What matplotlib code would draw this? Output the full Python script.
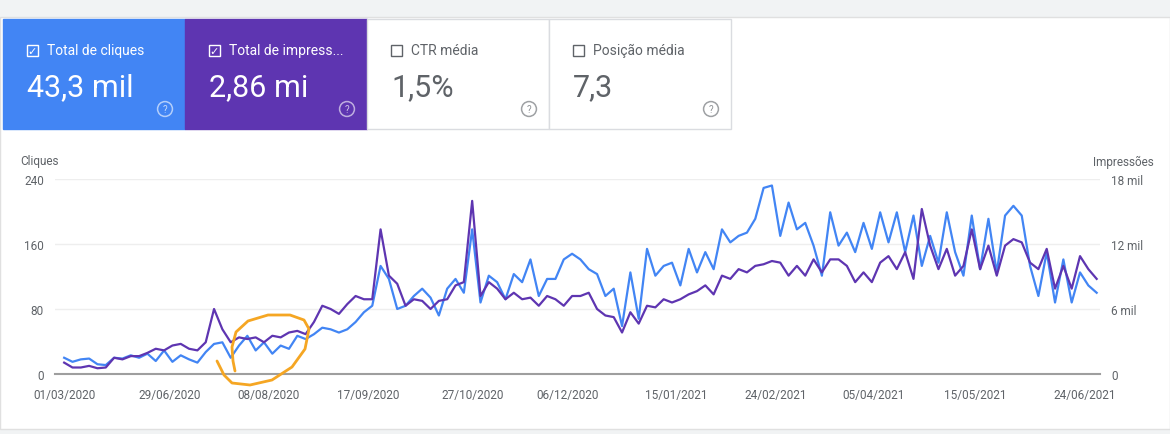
import matplotlib.pyplot as plt
from matplotlib.patches import Rectangle
import numpy as np

W, H = 1170, 435

# samples (every ~4 days, 01/03/2020 -> end of 06/2021)
CLIQUES = [
    20, 15, 18, 19, 12, 11, 20, 19, 23, 20, 25, 16, 29, 15, 23, 18, 14, 27, 37, 39, 20, 35, 47, 29, 39, 25, 35, 31, 47, 43, 49,
    57, 55, 51, 55, 64, 76, 84, 133, 117, 80, 84, 96, 105, 94, 72, 105, 117, 100, 178, 88, 121, 113, 92, 123, 113, 141, 96, 117, 117, 141, 148,
    141, 129, 123, 96, 105, 59, 125, 68, 154, 121, 133, 137, 109, 154, 125, 150, 129, 178, 162, 170, 174, 191, 229, 232, 170, 211, 178, 186, 158, 121, 199,
    158, 174, 150, 186, 154, 199, 162, 199, 150, 195, 133, 170, 137, 199, 150, 121, 195, 129, 191, 125, 195, 207, 195, 133, 96, 150, 88, 141, 88, 125, 109, 100,
]
IMPRESSOES_MIL = [
    1.05, 0.6, 0.6, 0.75, 0.53, 0.6, 1.5, 1.35, 1.65, 1.65, 1.95, 2.33, 2.18, 2.63, 2.78, 2.33, 2.18, 2.93, 6.0, 4.13, 2.93, 3.38, 3.23, 3.38, 2.93, 3.53, 3.38, 3.83, 3.98, 3.68, 4.8,
    6.3, 6.0, 5.55, 6.45, 7.2, 6.9, 6.9, 13.35, 9.08, 8.33, 6.3, 6.9, 6.75, 6.0, 6.75, 6.9, 8.18, 8.48, 15.98, 7.2, 8.48, 7.88, 6.9, 7.5, 6.9, 7.05, 6.3, 7.2, 6.9, 6.3, 7.2,
    7.2, 7.5, 6.0, 5.4, 5.25, 3.83, 5.7, 4.65, 6.3, 6.15, 6.9, 6.6, 6.9, 7.35, 7.65, 8.18, 7.35, 9.08, 8.78, 9.68, 9.38, 9.98, 10.13, 10.43, 10.28, 9.08, 9.98, 9.08, 10.58, 9.38, 10.58,
    10.58, 9.98, 8.48, 9.38, 8.48, 10.28, 10.88, 9.68, 11.25, 8.78, 15.23, 11.85, 9.68, 11.55, 9.08, 9.98, 13.35, 9.68, 11.85, 9.08, 11.85, 12.45, 12.15, 10.28, 9.68, 11.55, 7.88, 9.98, 7.88, 10.88, 9.68, 8.78,
]
n = min(len(CLIQUES), len(IMPRESSOES_MIL))
CLIQUES = CLIQUES[:n]
IMPRESSOES_MIL = IMPRESSOES_MIL[:n]

DATE_LABELS = ["01/03/2020", "29/06/2020", "08/08/2020", "17/09/2020", "27/10/2020", "06/12/2020",
               "15/01/2021", "24/02/2021", "05/04/2021", "15/05/2021", "24/06/2021"]
DATE_POS = [0, 12.7, 24.5, 36.5, 49, 60.5, 73.5, 85.5, 97.2, 109.4, 122.6]

CARDS = [
    ("Total de cliques", "43,3 mil", "#4285f4", True),
    ("Total de impress...", "2,86 mi", "#5e35b1", True),
    ("CTR média", "1,5%", "white", False),
    ("Posição média", "7,3", "white", False),
]

BLUE = "#4285f4"
PURPLE = "#5e35b1"
GREY = "#5f6368"

plt.rcParams["font.family"] = "Roboto"

fig = plt.figure(figsize=(W / 100, H / 100), dpi=100)
fig.patch.set_facecolor("#f1f3f4")


def fx(px):
    return px / W


def fy(py):
    return 1 - py / H


fig.add_artist(Rectangle((fx(0), fy(430)), 1, fy(18) - fy(430), transform=fig.transFigure,
                         facecolor="white", edgecolor="#e0e0e0", zorder=-10))

for i, (label, value, color, active) in enumerate(CARDS):
    x0 = 3 + i * 182
    fig.add_artist(Rectangle((fx(x0), fy(130)), fx(182), fy(20) - fy(130), transform=fig.transFigure,
                             facecolor=color, edgecolor="#dadce0" if not active else color, lw=1, zorder=-5))
    tc = "white" if active else "#5f6368"
    fig.add_artist(Rectangle((fx(x0 + 24), fy(57)), fx(11), fy(46) - fy(57), transform=fig.transFigure,
                             facecolor="none", edgecolor=tc, lw=1, zorder=3))
    if active:
        fig.text(fx(x0 + 29.5), fy(51.5), "✓", color="white", fontsize=8, ha="center", va="center",
                 fontfamily="DejaVu Sans", zorder=3)
    fig.text(fx(x0 + 44), fy(51), label, color=tc, fontsize=10, va="center", zorder=3)
    fig.text(fx(x0 + 24), fy(88), value, color=tc, fontsize=22, va="center", zorder=3)
    fig.text(fx(x0 + 162), fy(110), "?", color=tc, fontsize=7, ha="center", va="center", alpha=0.7, zorder=3,
             bbox=dict(boxstyle="circle,pad=0.25", facecolor="none", edgecolor=tc, lw=1.1, alpha=0.6))

ax = fig.add_axes([fx(55), fy(375), fx(1100) - fx(55), fy(180) - fy(375)])
ax2 = ax.twinx()
x = np.arange(n)

ax.plot(x, CLIQUES, color=BLUE, lw=1.6)
ax2.plot(x, IMPRESSOES_MIL, color=PURPLE, lw=1.6)

ax.set_xlim(-1.1, 124.4)
ax.set_ylim(0, 240)
ax2.set_ylim(0, 18)
ax.set_yticks([0, 80, 160, 240])
ax2.set_yticks([0, 6, 12, 18])
ax2.set_yticklabels(["0", "6 mil", "12 mil", "18 mil"])
ax.set_xticks(DATE_POS)
ax.set_xticklabels(DATE_LABELS)
ax.grid(axis="y", color="#eeeeee", lw=1)
ax.set_axisbelow(True)

for a in (ax, ax2):
    for s in ("top", "left", "right", "bottom"):
        a.spines[s].set_visible(False)
    a.tick_params(length=0, colors=GREY, labelsize=8.5)
ax.spines["bottom"].set_visible(True)
ax.spines["bottom"].set_color("#9e9e9e")
ax.spines["bottom"].set_linewidth(1.5)
ax.tick_params(axis="x", pad=10)
ax.tick_params(axis="y", pad=8)
ax2.tick_params(axis="y", pad=8)
ax.set_zorder(1)
ax2.set_zorder(2)
ax2.patch.set_alpha(0)
ax.patch.set_alpha(0)

fig.text(fx(20), fy(162), "Cliques", color=GREY, fontsize=8.5, va="center")
fig.text(fx(1154), fy(162), "Impressões", color=GREY, fontsize=8.5, va="center", ha="right")

# orange hand-drawn circle
loop_x = [217, 224, 232, 250, 272, 292, 305, 309, 304, 290, 268, 248, 236, 232, 233, 235]
loop_y = [362, 376, 384, 386, 381, 368, 350, 330, 321, 316, 316, 322, 333, 348, 362, 372]
fig.add_artist(plt.Line2D([fx(v) for v in loop_x], [fy(v) for v in loop_y], transform=fig.transFigure,
                          color="#f5a623", lw=2, solid_capstyle="round", solid_joinstyle="round", zorder=5))

fig.savefig("out.png", dpi=100, facecolor=fig.get_facecolor())
